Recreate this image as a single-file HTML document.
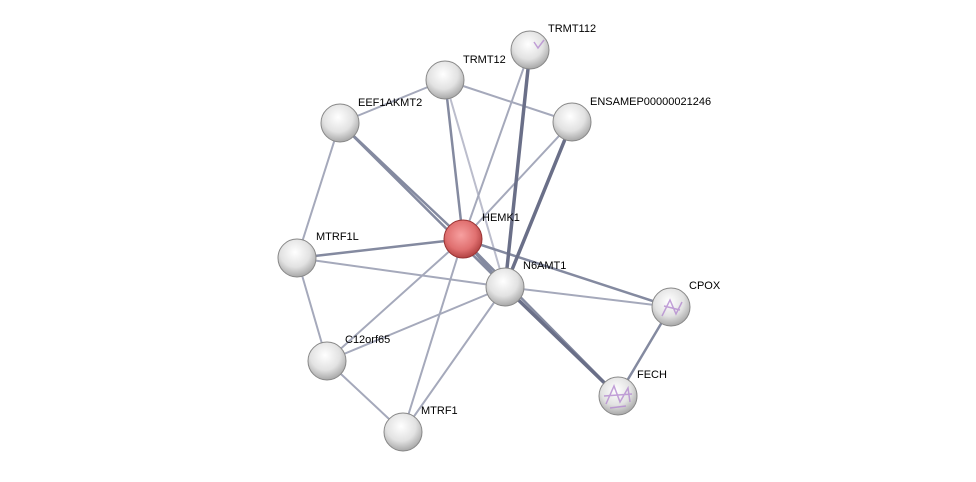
<!DOCTYPE html>
<html><head><style>
body{margin:0;background:#fff;}
text{font-family:"Liberation Sans",sans-serif;font-size:11px;fill:#000;}
</style></head><body>
<svg width="976" height="477" viewBox="0 0 976 477" xmlns="http://www.w3.org/2000/svg">
<defs>
<radialGradient id="g" cx="45%" cy="35%" r="65%">
<stop offset="0" stop-color="#ffffff"/><stop offset="0.6" stop-color="#e2e2e2"/><stop offset="1" stop-color="#a8a8a8"/>
</radialGradient>
<radialGradient id="r" cx="45%" cy="40%" r="65%">
<stop offset="0" stop-color="#f7a0a0"/><stop offset="0.6" stop-color="#e07070"/><stop offset="1" stop-color="#a83838"/>
</radialGradient>
</defs>
<g stroke-linecap="round">
<g stroke="#a5a9bb" stroke-width="2">
<line x1="445" y1="80" x2="340" y2="123"/>
<line x1="445" y1="80" x2="572" y2="122"/>
<line x1="340" y1="123" x2="297" y2="258"/>
<line x1="297" y1="258" x2="327" y2="361"/>
<line x1="327" y1="361" x2="403" y2="432"/>
<line x1="445" y1="80" x2="505" y2="287" stroke="#bbbdcc"/>
<line x1="463" y1="239" x2="327" y2="361"/>
<line x1="463" y1="239" x2="403" y2="432"/>
<line x1="505" y1="287" x2="327" y2="361"/>
<line x1="505" y1="287" x2="403" y2="432"/>
<line x1="505" y1="287" x2="297" y2="258"/>
<line x1="505" y1="287" x2="671" y2="307"/>
<line x1="463" y1="239" x2="572" y2="122"/>
<line x1="463" y1="239" x2="530" y2="50"/>
</g>
<g stroke="#848aa0" stroke-width="2.5">
<line x1="463" y1="239" x2="297" y2="258"/>
<line x1="463" y1="239" x2="445" y2="80"/>
<line x1="463" y1="239" x2="340" y2="123"/>
<line x1="505" y1="287" x2="340" y2="123"/>
<line x1="463" y1="239" x2="671" y2="307"/>
<line x1="671" y1="307" x2="618" y2="396"/>
<line x1="463" y1="239" x2="505" y2="287"/>
<line x1="463" y1="239" x2="618" y2="396"/>
</g>
<g stroke="#6a6f88" stroke-width="3.5">
<line x1="505" y1="287" x2="530" y2="50"/>
<line x1="505" y1="287" x2="572" y2="122"/>
<line x1="505" y1="287" x2="618" y2="396"/>
</g>
</g>
<g stroke="#888" stroke-width="1">
<circle cx="530" cy="50" r="19" fill="url(#g)"/>
<circle cx="445" cy="80" r="19" fill="url(#g)"/>
<circle cx="340" cy="123" r="19" fill="url(#g)"/>
<circle cx="572" cy="122" r="19" fill="url(#g)"/>
<circle cx="297" cy="258" r="19" fill="url(#g)"/>
<circle cx="505" cy="287" r="19" fill="url(#g)"/>
<circle cx="671" cy="307" r="19" fill="url(#g)"/>
<circle cx="327" cy="361" r="19" fill="url(#g)"/>
<circle cx="618" cy="396" r="19" fill="url(#g)"/>
<circle cx="403" cy="432" r="19" fill="url(#g)"/>
<circle cx="463" cy="239" r="19" fill="url(#r)" stroke="#933"/>
</g>
<g fill="none" stroke="#b48ad0" stroke-width="1.5" opacity="0.8">
<path d="M662 316 L670 300 L676 314 L682 302 M664 306 L680 310"/>
<path d="M606 404 L614 386 L620 402 L628 388 L630 402 M604 396 L632 394 M610 408 L626 406"/>
<path d="M534 42 L538 48 L544 40"/>
</g>
<text x="548" y="32">TRMT112</text>
<text x="463" y="63">TRMT12</text>
<text x="358" y="106">EEF1AKMT2</text>
<text x="590" y="105">ENSAMEP00000021246</text>
<text x="482" y="221">HEMK1</text>
<text x="316" y="240">MTRF1L</text>
<text x="523" y="269">N6AMT1</text>
<text x="689" y="289">CPOX</text>
<text x="345" y="343">C12orf65</text>
<text x="637" y="378">FECH</text>
<text x="421" y="414">MTRF1</text>
</svg>
</body></html>
